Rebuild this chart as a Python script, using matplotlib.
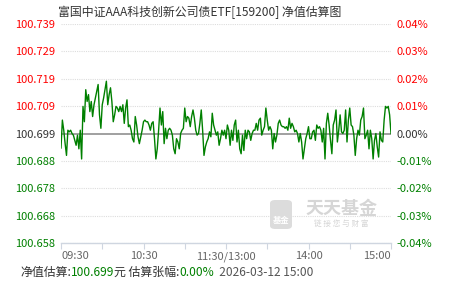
import numpy as np
import matplotlib
matplotlib.use("Agg")
import matplotlib.pyplot as plt
from matplotlib.patches import FancyBboxPatch

plt.rcParams['font.family'] = ['Noto Sans CJK SC', 'DejaVu Sans']

# estimated change vs last NAV, in units of 0.001 %
am_chg = [
    -5.3, 4.9, 1.2, -3.7, -8.0, 1.2, 0.6, 1.2, 0, -0.6,
    -2.5, -4.3, -0.6, -5.6, 1.2, -9.3, 9.9, 4.3, 16, 11.7,
    14.2, 8, 11.7, 6.2, 10.5, 13, 15.4, 17.9, 6.8, 1.9,
    10.5, 13, 16, 19.1, 10.5, 14.2, 16.7, 11.7, 4.3, 6.8,
    9.9, 9.3, 8, 9.9, 8, 10.5, 3.7, 9.3, 12.3, 2.5,
    3.1, 1.2, -1.9, -3.1, 6.2, 3.1, -1.2, -3.7, -1.2, 1.2,
    4.3, 4.9, 4.3, 4.3, 3.1, 1.2, 3.7, 4.3, -1.9, -9.3,
    -5.6, 1.2, 9.3, 3.1, 8, -3.7, 1.9, -1.9, 1.2, 1.9,
    1.2, -0.6, -5.6, -7.4, -1.9, -3.1, -5.6, 0, 1.2, 1.9,
    9.3, 4.3, 6.2, 5.6, 2.5, 6.2, 8.6, 5.6, 1.2, -0.6,
    0, 3.7, 8.6, 1.2, -8, -4.9, -3.1, -1.9, 0.6, -1.2,
    7.4, 3.1, 1.2, -0.6, 0.6, -4.3, -1.9, 1.2, -0.6, 1.2,
    -1.9,
]
pm_chg = [
    3.1, 1.2, -4.3, 1.2, -2.5, 3.1, 4.9, -3.1, 1.2, -5.6,
    -7.4, -0.6, -6.2, 1.2, -1.9, 1.2, 0.6, -2.5, 0, 1.2,
    1.2, 3.7, 1.2, 4.9, 5.6, -0.6, 1.2, 2.5, 9.3, 4.9,
    1.2, 2.5, 1.2, -5.6, 0, -3.1, -0.6, 3.7, 4.9, 3.1,
    2.5, 2.5, 1.9, 2.5, 1.2, 5.6, 1.9, 3.7, 2.5, 0.6,
    1.2, 0, -3.1, 0, -3.1, -9.3, -5.6, -1.9, 0, 2.5,
    -1.9, -1.9, 0.6, 1.2, -2.5, 3.1, 1.9, 2.5, 1.2, -3.1,
    1.9, -9.3, 3.7, 7.4, 3.1, -2.5, -7.4, 3.1, 4.9, 8.6,
    -3.1, 1.2, 6.8, 0.6, 0, 1.2, 8.6, -3.1, 4.9, 9.3,
    3.1, 2.5, -0.6, -8, -1.9, 1.2, -0.6, 4.9, 6.2, 9.3,
    -1.9, -0.6, 1.2, -5.6, 1.2, -1.9, -9.3, -2.5, 0, -4.9,
    -8.6, 0.6, -2.5, -3.1, 4.9, 9.9, 9.3, 9.9, 6.8, 0,
]

pct_ticks = [0.04, 0.03, 0.02, 0.01, 0.0, -0.01, -0.02, -0.03, -0.04]
nav_labels = ['100.739', '100.729', '100.719', '100.709', '100.699',
              '100.688', '100.678', '100.668', '100.658']
pct_labels = ['0.04%', '0.03%', '0.02%', '0.01%', '0.00%',
              '-0.01%', '-0.02%', '-0.03%', '-0.04%']
time_ticks = [0, 30, 60, 90, 120, 150, 180, 210, 240]
time_labels = ['09:30', '', '10:30', '', '11:30/13:00', '', '14:00', '', '15:00']

title = '富国中证AAA科技创新公司债ETF[159200] 净值估算图'
est_nav = '100.699'
est_chg = '0.00%'
stamp = '2026-03-12 15:00'

RED = '#ff0000'
GREEN = '#008000'
DARK = '#333333'

pct = np.array(am_chg + pm_chg) / 1000.0
x = np.arange(len(pct))

fig = plt.figure(figsize=(4.51, 2.81), dpi=100)
ax = fig.add_axes([61 / 451, 38 / 281, 330 / 451, 219 / 281])
ax.set_xlim(0, 240)
ax.set_ylim(-0.04, 0.04)

# grid + zero line
for p in pct_ticks:
    if p == 0:
        continue
    ax.axhline(p, color='#dddddd', lw=0.8, ls=(0, (1, 1)), zorder=1)
ax.axhline(0, color='#999999', lw=1.3, zorder=2)

ax.plot(x, pct, color=GREEN, lw=1.0, zorder=3)

for s in ['top', 'left', 'right']:
    ax.spines[s].set_visible(False)
ax.spines['bottom'].set_color('#cfd6e0')
ax.spines['bottom'].set_linewidth(1.0)

ax.set_xticks(time_ticks)
ax.set_xticklabels(time_labels)
ax.tick_params(axis='x', direction='out', length=4, color='#cfd6e0',
               labelsize=8, labelcolor='#666666', pad=2)
lbls = ax.get_xticklabels()
lbls[0].set_horizontalalignment('left')
lbls[-1].set_horizontalalignment('right')

def tick_color(p):
    if p > 0:
        return RED
    if p < 0:
        return GREEN
    return DARK

ax.set_yticks(pct_ticks)
ax.set_yticklabels(nav_labels)
ax.tick_params(axis='y', length=0, labelsize=8, pad=4)
for lab, p in zip(ax.get_yticklabels(), pct_ticks):
    lab.set_color(tick_color(p))

ax2 = ax.twinx()
ax2.set_ylim(-0.04, 0.04)
ax2.set_yticks(pct_ticks)
ax2.set_yticklabels(pct_labels)
ax2.tick_params(axis='y', length=0, labelsize=8, pad=4)
for lab, p in zip(ax2.get_yticklabels(), pct_ticks):
    lab.set_color(tick_color(p))
for s in ax2.spines.values():
    s.set_visible(False)

# watermark
fig.patches.append(FancyBboxPatch((270 / 451, 52 / 281), 22 / 451, 29 / 281,
                                  boxstyle='round,pad=0,rounding_size=0.012',
                                  transform=fig.transFigure, fc='#dcdcdc',
                                  ec='none', zorder=0))
fig.text(281 / 451, 60 / 281, '基金', fontsize=6, color='white',
         ha='center', va='center', weight='bold')
fig.text(341 / 451, 73 / 281, '天天基金', fontsize=13, color='#d6d6d6',
         ha='center', va='center', weight='bold')
fig.text(341 / 451, 57 / 281, '链 接 您 与 财 富', fontsize=5.5,
         color='#d6d6d6', ha='center', va='center')

fig.text(58 / 451, 269 / 281, title, fontsize=8.6, color=DARK,
         ha='left', va='center')

# footer
fy = 9 / 281
parts = [('净值估算:', DARK), (est_nav, GREEN), ('元 估算张幅:', DARK),
         (est_chg, GREEN), ('  ' + stamp, '#555555')]
fig.canvas.draw()
xpos = 20 / 451
r = fig.canvas.get_renderer()
for txt, col in parts:
    t = fig.text(xpos, fy, txt, fontsize=8.6, color=col, ha='left', va='center')
    bb = t.get_window_extent(renderer=r)
    xpos += bb.width / fig.bbox.width

fig.savefig('out.png', dpi=100)
